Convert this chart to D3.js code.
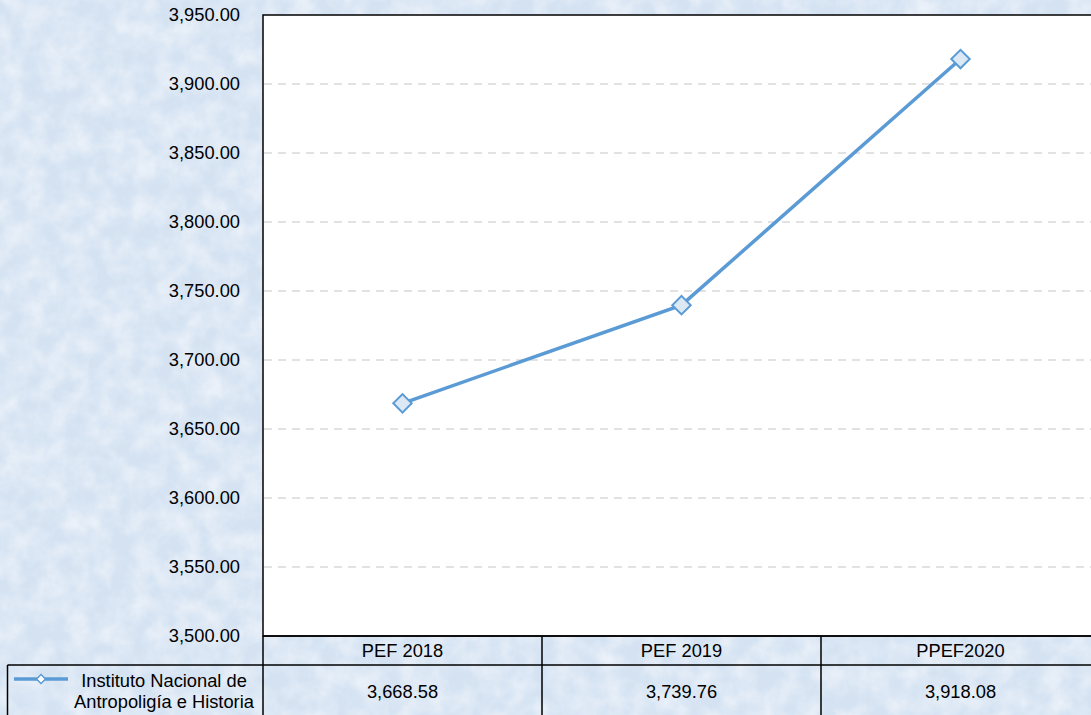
<!DOCTYPE html>
<html lang="es">
<head>
<meta charset="UTF-8">
<title>INAH</title>
<script src="https://d3js.org/d3.v7.min.js"></script>
<style>
  body { margin: 0; overflow: hidden; }
  text { font-family: "Liberation Sans", Arial, sans-serif; fill: #000; }
</style>
</head>
<body>
<div id="chart"></div>
<script>
    // data
    const categories = ['PEF 2018', 'PEF 2019', 'PPEF2020'];
    const values = [3668.58, 3739.76, 3918.08];
    const valueLabels = ['3,668.58', '3,739.76', '3,918.08'];
    const seriesName = ['Instituto Nacional de', 'Antropoligía e Historia'];
    const yTicks = [3500, 3550, 3600, 3650, 3700, 3750, 3800, 3850, 3900, 3950];

    const W = 1091, H = 715;
    const plot = {left: 263, top: 15, right: 1100, bottom: 636};
    const rowH = 29;
    const fs = 18.3;

    const svg = d3.select('#chart').append('svg')
        .attr('width', W).attr('height', H);

    // textured light blue background
    const defs = svg.append('defs');
    const f = defs.append('filter').attr('id', 'tex')
        .attr('x', 0).attr('y', 0).attr('width', '100%').attr('height', '100%');
    f.append('feTurbulence').attr('type', 'fractalNoise')
        .attr('baseFrequency', 0.045).attr('numOctaves', 4).attr('seed', 7).attr('result', 'n');
    f.append('feColorMatrix').attr('in', 'n').attr('type', 'matrix')
        .attr('values', '0 0 0 0 0.88  0 0 0 0 0.92  0 0 0 0 0.97  0 0 0 1.3 -0.4')
        .attr('result', 'c');
    f.append('feComposite').attr('in', 'c').attr('in2', 'SourceGraphic').attr('operator', 'over');

    svg.append('rect').attr('width', W).attr('height', H).attr('fill', '#d4e2f2');
    svg.append('rect').attr('width', W).attr('height', H).attr('fill', '#d4e2f2').attr('filter', 'url(#tex)');

    const x = d3.scaleBand().domain(categories).range([plot.left, plot.right]);
    const y = d3.scaleLinear().domain([3500, 3950]).range([plot.bottom, plot.top]);

    // plot area
    svg.append('rect')
        .attr('x', plot.left).attr('y', plot.top)
        .attr('width', plot.right - plot.left).attr('height', plot.bottom - plot.top)
        .attr('fill', '#fff').attr('stroke', '#000').attr('stroke-width', 1.5);

    // grid lines
    svg.append('g').selectAll('line')
        .data(yTicks.filter(d => d > 3500 && d < 3950))
        .join('line')
        .attr('x1', plot.left + 1).attr('x2', plot.right)
        .attr('y1', d => y(d)).attr('y2', d => y(d))
        .attr('stroke', '#d9d9d9').attr('stroke-width', 1.5)
        .attr('stroke-dasharray', '8,6');

    // y axis labels
    const fmt = d3.format(',.2f');
    svg.append('g').selectAll('text')
        .data(yTicks).join('text')
        .attr('x', 240).attr('y', d => y(d)).attr('dy', '0.35em')
        .attr('text-anchor', 'end').attr('font-size', fs)
        .text(d => fmt(d));

    // line
    const cx = d => x(d) + x.bandwidth() / 2;
    const line = d3.line().x((d, i) => cx(categories[i])).y(d => y(d));
    svg.append('path').datum(values)
        .attr('d', line).attr('fill', 'none')
        .attr('stroke', '#5b9bd5').attr('stroke-width', 3.5);

    const diamond = d3.symbol().type(d3.symbolSquare).size(170);
    svg.append('g').selectAll('path.m')
        .data(values).join('path')
        .attr('class', 'm')
        .attr('d', diamond)
        .attr('transform', (d, i) => `translate(${cx(categories[i])},${y(d)}) rotate(45)`)
        .attr('fill', '#dde8f5').attr('stroke', '#5b9bd5').attr('stroke-width', 2);

    // data table
    const tY = plot.bottom, tY2 = plot.bottom + rowH;
    const tbl = svg.append('g').attr('stroke', '#000').attr('stroke-width', 1.5);
    tbl.append('line').attr('x1', plot.left).attr('x2', W).attr('y1', tY).attr('y2', tY);
    tbl.append('line').attr('x1', 7.5).attr('x2', W).attr('y1', tY2).attr('y2', tY2);
    tbl.append('line').attr('x1', 7.5).attr('x2', 7.5).attr('y1', tY2).attr('y2', H);
    tbl.selectAll('line.v').data(categories).join('line')
        .attr('class', 'v')
        .attr('x1', d => x(d)).attr('x2', d => x(d))
        .attr('y1', tY).attr('y2', H);

    svg.append('g').selectAll('text').data(categories).join('text')
        .attr('x', d => cx(d)).attr('y', tY + 15).attr('dy', '0.35em')
        .attr('text-anchor', 'middle').attr('font-size', fs).text(d => d);

    svg.append('g').selectAll('text').data(valueLabels).join('text')
        .attr('x', (d, i) => cx(categories[i])).attr('y', tY2 + 27).attr('dy', '0.35em')
        .attr('text-anchor', 'middle').attr('font-size', fs).text(d => d);

    // legend key in table
    const ly = tY2 + 14;
    svg.append('line').attr('x1', 14).attr('x2', 68).attr('y1', ly).attr('y2', ly)
        .attr('stroke', '#5b9bd5').attr('stroke-width', 3.5);
    svg.append('path').attr('d', d3.symbol().type(d3.symbolSquare).size(40))
        .attr('transform', `translate(41,${ly}) rotate(45)`)
        .attr('fill', '#fff').attr('stroke', '#5b9bd5').attr('stroke-width', 1.5);
    svg.append('g').selectAll('text').data(seriesName).join('text')
        .attr('x', 164).attr('y', (d, i) => tY2 + 16 + i * 21).attr('dy', '0.35em')
        .attr('text-anchor', 'middle').attr('font-size', fs).text(d => d);
</script>
</body>
</html>
